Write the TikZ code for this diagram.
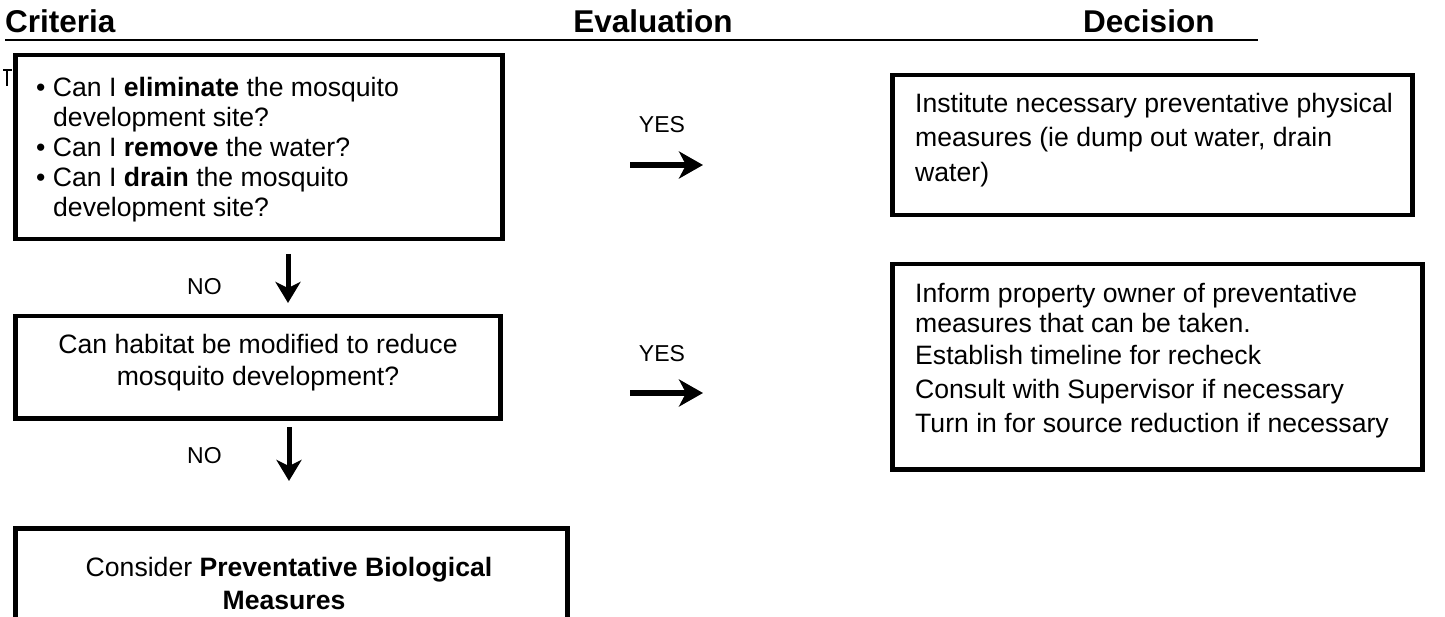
\documentclass[tikz,border=0pt]{standalone}
\usepackage{fontspec}
\setmainfont{Liberation Sans}
\usetikzlibrary{arrows.meta}
\begin{document}
\begin{tikzpicture}[x=1pt,y=-1pt,
  box/.style={draw,line width=4.5pt},
  hdr/.style={font=\fontsize{31.5}{35}\selectfont\bfseries,inner sep=0pt},
  lbl/.style={font=\fontsize{23}{26}\selectfont,inner sep=0pt},
  txt/.style={font=\fontsize{26.6}{30}\selectfont,inner sep=0pt},
  goarrow/.style={line width=6.5pt,-{Stealth[length=24pt,width=27pt,inset=7pt]}},
  downarrow/.style={line width=5pt,-{Stealth[length=21pt,width=25pt,inset=6pt]}}]
\useasboundingbox (0,0) rectangle (1445,617);

% column headings and rule
\node[hdr,anchor=base west] (hcrit) at (5,33) {Criteria};
\node[hdr,anchor=base] (heval) at (653,33) {Evaluation};
\node[hdr,anchor=base west] (hdec) at (1083,33) {Decision};
\draw[line width=2.4pt] (5,40) -- (1258,40);
\draw[line width=2pt] (3,70) -- (12,70) (7,70) -- (7,86);

% criteria boxes
\node[box,anchor=north west,minimum width=487pt,minimum height=184pt] (c1) at (13,53) {};
\node[txt,anchor=base west] (c1a) at (36,97) {\textbullet\ Can I \textbf{eliminate} the mosquito};
\node[txt,anchor=base west] (c1b) at (53,127) {development site?};
\node[txt,anchor=base west] (c1c) at (36,157) {\textbullet\ Can I \textbf{remove} the water?};
\node[txt,anchor=base west] (c1d) at (36,187) {\textbullet\ Can I \textbf{drain} the mosquito};
\node[txt,anchor=base west] (c1e) at (53,217) {development site?};

\node[box,anchor=north west,minimum width=485pt,minimum height=102pt] (c2) at (13,314) {};
\node[txt,anchor=base] (c2a) at (258,353) {Can habitat be modified to reduce};
\node[txt,anchor=base] (c2b) at (258,385) {mosquito development?};

\node[box,anchor=north west,minimum width=552pt,minimum height=130pt] (c3) at (13,526) {};
\node[txt,anchor=base] (c3a) at (289,576) {Consider \textbf{Preventative Biological}};
\node[txt,anchor=base] (c3b) at (284,609) {\textbf{Measures}};

% decision boxes
\node[box,anchor=north west,minimum width=520pt,minimum height=140pt] (d1) at (890,73) {};
\node[txt,anchor=base west] (d1a) at (915,113) {Institute necessary preventative physical};
\node[txt,anchor=base west] (d1b) at (915,147) {measures (ie dump out water, drain};
\node[txt,anchor=base west] (d1c) at (915,182) {water)};

\node[box,anchor=north west,minimum width=530pt,minimum height=205pt] (d2) at (890,262) {};
\node[txt,anchor=base west] (d2a) at (915,303) {Inform property owner of preventative};
\node[txt,anchor=base west] (d2b) at (915,333) {measures that can be taken.};
\node[txt,anchor=base west] (d2c) at (915,364) {Establish timeline for recheck};
\node[txt,anchor=base west] (d2d) at (915,398) {Consult with Supervisor if necessary};
\node[txt,anchor=base west] (d2e) at (915,432) {Turn in for source reduction if necessary};

% evaluation arrows
\node[lbl,anchor=base] (yes1) at (662,133) {YES};
\coordinate (y1s) at (630,165); \coordinate (y1e) at (703,165);
\draw[goarrow] (y1s) -- (y1e);
\node[lbl,anchor=base] (yes2) at (662,362) {YES};
\coordinate (y2s) at (630,393); \coordinate (y2e) at (703,393);
\draw[goarrow] (y2s) -- (y2e);

\node[lbl,anchor=base west] (no1) at (187,295) {NO};
\coordinate (n1s) at (288,254); \coordinate (n1e) at (288,303);
\draw[downarrow] (n1s) -- (n1e);
\node[lbl,anchor=base west] (no2) at (187,463) {NO};
\coordinate (n2s) at (289,427); \coordinate (n2e) at (289,481);
\draw[downarrow] (n2s) -- (n2e);
\end{tikzpicture}
\end{document}
